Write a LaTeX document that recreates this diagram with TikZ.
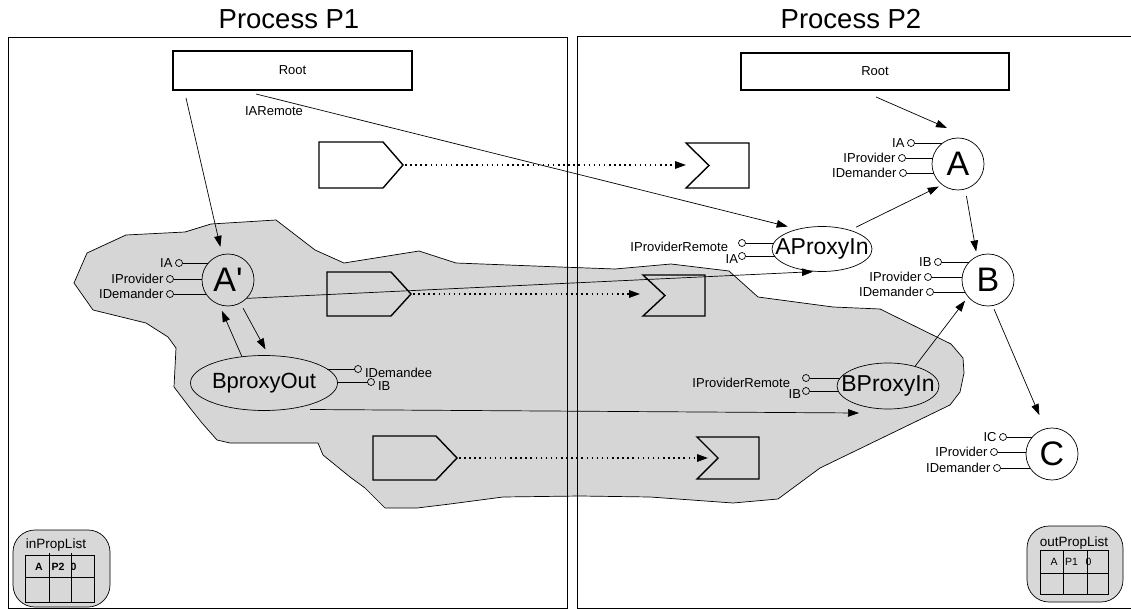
\documentclass[tikz,border=0pt]{standalone}
\usepackage{fontspec}
\setmainfont{Liberation Sans}
\usetikzlibrary{arrows.meta,shapes.geometric,positioning}
\definecolor{blobgray}{RGB}{214,214,214}
\definecolor{listgray}{RGB}{216,216,216}
\newcommand{\pinrow}[5]{%
  \node[pin] (#1) at (#2,#3) {};
  \draw[stub] (#1.east) -- (#4,#3);
  \node[lbl, left=3pt of #1] {#5};}
\begin{document}
\begin{tikzpicture}[x=1pt,y=-1pt,
  every node/.style={inner sep=0pt, outer sep=0pt},
  frame/.style={draw, line width=1pt},
  title/.style={font=\fontsize{27.5}{32}\selectfont},
  rootbox/.style={draw, line width=1.1pt, font=\fontsize{13}{15}\selectfont},
  comp/.style={draw, circle, line width=0.7pt, minimum size=52pt, font=\fontsize{34}{38}\selectfont},
  proxy/.style={draw, ellipse, line width=0.7pt},
  pin/.style={draw, circle, line width=0.7pt, minimum size=7pt},
  stub/.style={line width=0.7pt},
  lbl/.style={font=\fontsize{13}{15}\selectfont, text height=9.3pt, text depth=0pt},
  conn/.style={line width=0.7pt, -{Triangle[length=11pt,width=7.5pt]}},
  msg/.style={line width=1.5pt, dash pattern=on 1.5pt off 3.6pt, -{Triangle[length=11pt,width=7.5pt]}},
  port/.style={draw, line width=1.4pt, line join=miter},
  plist/.style={draw, fill=listgray, line width=0.7pt, rounded corners=22pt},
  cell/.style={font=\fontsize{10.5}{12}\selectfont},
]
\useasboundingbox (0,0) rectangle (1131,609);

% gray region
\draw[fill=blobgray, line width=0.7pt, line join=round]
 (74,283) -- (93,310) -- (146,323) -- (168,337) -- (176,348) -- (174,387) --
 (190,408) -- (202,423) -- (217,440) -- (230,443) -- (318,443) -- (323,455) --
 (350,477) -- (365,488) -- (385,508) -- (417,508) -- (450,504) -- (503,497) --
 (580,496) -- (650,497) -- (733,503) -- (778,499) -- (820,468) -- (950,405) --
 (960,392) -- (964,373) -- (963,358) -- (951,344) -- (880,309) -- (833,307) --
 (758,297) -- (729,271) -- (671,264) -- (615,269) -- (560,267) -- (456,263) --
 (419,251) -- (344,263) -- (315,250) -- (276,220) -- (211,224) -- (185,232) --
 (126,235) -- (87,253) -- cycle;

% process frames
\node[title] (tp1) at (289,19) {Process P1};
\node[title] (tp2) at (851,19) {Process P2};
\draw[frame] (8,38) rectangle (567,608);
\draw[frame] (577,37) rectangle (1135,608);

% roots
\node[rootbox, minimum width=239pt, minimum height=39pt] (r1) at (292.5,70.5) {Root};
\node[rootbox, minimum width=268pt, minimum height=37pt] (r2) at (875,71.5) {Root};
\node[font=\fontsize{13}{15}\selectfont] (iar) at (274,111) {IARemote};

% components
\node[comp] (Ap) at (228,280) {A\textquotesingle};
\node[comp] (A) at (958,164) {A};
\node[comp] (B) at (988,280) {B};
\node[comp] (C) at (1052,454) {C};

\node[proxy, minimum width=147pt, minimum height=55pt,
      label={[font=\fontsize{22}{26}\selectfont]center:BproxyOut}] (bpo) at (264,383) {};
\node[proxy, minimum width=100pt, minimum height=45pt,
      label={[font=\fontsize{23}{27}\selectfont]center:AProxyIn}] (api) at (822,249) {};
\node[proxy, minimum width=102pt, minimum height=46pt,
      label={[font=\fontsize{23}{27}\selectfont]center:BProxyIn}] (bpi) at (888,386) {};

% interface pins
\pinrow{apIA}{179}{263}{208}{IA}
\pinrow{apIP}{170}{279}{202}{IProvider}
\pinrow{apID}{170}{294}{206}{IDemander}

\pinrow{aIA}{911}{143}{942}{IA}
\pinrow{aIP}{902}{158}{933}{IProvider}
\pinrow{aID}{903}{173}{934}{IDemander}

\pinrow{bIB}{938}{262}{969}{IB}
\pinrow{bIP}{928}{277}{962}{IProvider}
\pinrow{bID}{930}{292}{965}{IDemander}

\pinrow{cIC}{1003}{437}{1032}{IC}
\pinrow{cIP}{994}{452}{1026}{IProvider}
\pinrow{cID}{997}{468}{1030}{IDemander}

% AProxyIn pins
\node[pin] (aprR) at (742,243) {};
\draw[stub] (aprR.east) -- (774,243);
\node[lbl, anchor=east] at (728,247) {IProviderRemote};
\node[pin] (aprIA) at (742,256) {};
\draw[stub] (aprIA.east) -- (775,256);
\node[lbl, anchor=east] at (738,259) {IA};

% BProxyIn pins
\node[pin] (bprR) at (806,378) {};
\draw[stub] (bprR.east) -- (840,378);
\node[lbl, anchor=east] at (790,383) {IProviderRemote};
\node[pin] (bprIB) at (806,391) {};
\draw[stub] (bprIB.east) -- (839,391);
\node[lbl, anchor=east] at (801,394) {IB};

% BproxyOut pins
\node[pin] (boD) at (358,369) {};
\draw[stub] (327,369) -- (boD.west);
\node[lbl, anchor=west] at (365,373) {IDemandee};
\node[pin] (boIB) at (371,382) {};
\draw[stub] (337,382) -- (boIB.west);
\node[lbl, anchor=west] at (378,386) {IB};

% port shapes
\draw[port] (319,142) -- (383,142) -- (403,165) -- (383,188) -- (319,188) -- cycle;
\draw[port] (327,272) -- (391,272) -- (411,294) -- (391,316) -- (327,316) -- cycle;
\draw[port] (373,436) -- (436,436) -- (457,458) -- (436,480) -- (373,480) -- cycle;
\draw[port] (686,143) -- (749,143) -- (749,188) -- (686,188) -- (709,165.5) -- cycle;
\draw[port] (643,275) -- (705,275) -- (705,316) -- (643,316) -- (665,295.5) -- cycle;
\draw[port] (697,437) -- (759,437) -- (759,479) -- (697,479) -- (718,458) -- cycle;

\coordinate (m1s) at (405,165);  \coordinate (m1e) at (686,165);
\coordinate (m2s) at (413,294);  \coordinate (m2e) at (640,294);
\coordinate (m3s) at (459,458);  \coordinate (m3e) at (708,458);
\draw[msg] (m1s) -- (m1e);
\draw[msg] (m2s) -- (m2e);
\draw[msg] (m3s) -- (m3e);

% connectors
\draw[conn, shorten >=8pt] ([shift={(13,8)}]r1.south west) -- (Ap);
\draw[conn, shorten >=11pt] ([shift={(83,4)}]r1.south west) -- (api.140);
\draw[conn] ([shift={(135,7)}]r2.south west) -- ([shift={(-11,-10)}]A.north);
\draw[conn, shorten <=7pt, shorten >=4pt] (api.34) -- (A.-127);
\draw[conn, shorten <=7pt, shorten >=5pt] (A.-74) -- (B.115);
\draw[conn, shorten >=5pt] (bpi.36) -- (B.-140);
\draw[conn, shorten <=4pt, shorten >=15pt] (B.-80) -- (C.105);
\draw[conn, shorten <=6pt, shorten >=7pt] (Ap.-62) -- (bpo.80);
\draw[conn, shorten >=7pt] (bpo.130) -- (Ap.-110);
\draw[conn, shorten >=5pt] (Ap.-45) -- (api.-100);
\draw[conn] ([shift={(46,-1)}]bpo.south) -- ([shift={(-29,4)}]bpi.south);

% property lists
\node[plist, minimum width=97pt, minimum height=77pt] (inpl) at (61.5,568.5) {};
\node[font=\fontsize{13.5}{15}\selectfont] (inplt) at (56,545) {inPropList};
\draw[line width=0.7pt] (25,555) rectangle (94,602);
\draw[line width=0.7pt] (25,577) -- (94,577) (49,553) -- (49,602) (71,553) -- (71,602);
\node[cell, font=\fontsize{10.5}{12}\selectfont\bfseries] at (39,567) {A};
\node[cell, font=\fontsize{10.5}{12}\selectfont\bfseries] at (58,567) {P2};
\node[cell, font=\fontsize{10.5}{12}\selectfont\bfseries, anchor=west] at (70.5,567) {0};

\node[plist, minimum width=96pt, minimum height=76pt] (outpl) at (1075,564) {};
\node[font=\fontsize{13.5}{15}\selectfont] (outplt) at (1074,543) {outPropList};
\draw[line width=0.7pt] (1040,550) rectangle (1108,594);
\draw[line width=0.7pt] (1040,573) -- (1108,573) (1063,550) -- (1063,594) (1087,550) -- (1087,594);
\node[cell] at (1054,562) {A};
\node[cell, anchor=west] at (1065,562) {P1};
\node[cell, anchor=west] at (1085.5,562) {0};
\end{tikzpicture}
\end{document}
